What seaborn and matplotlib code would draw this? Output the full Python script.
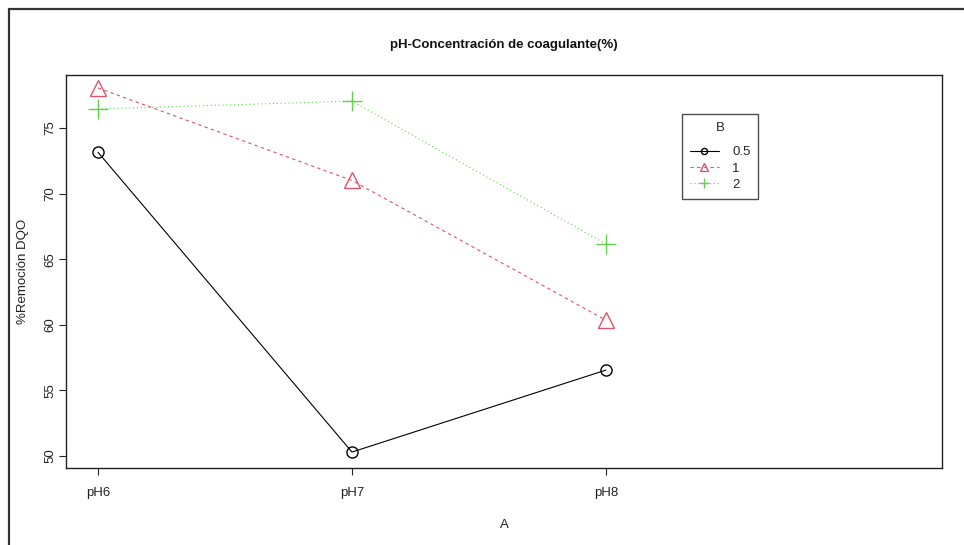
import matplotlib
matplotlib.use("Agg")
import matplotlib.pyplot as plt
from matplotlib.lines import Line2D
import seaborn as sns
import pandas as pd

categories = ["pH6", "pH7", "pH8"]
series_names = ["0.5", "1", "2"]
vals_05 = [73.15, 50.3, 56.55]
vals_1 = [78.05, 71.0, 60.35]
vals_2 = [76.45, 77.05, 66.15]
yticks = [50, 55, 60, 65, 70, 75]

sns.set_theme(style="white")
plt.rcParams["font.family"] = ["Liberation Sans", "DejaVu Sans"]

rows = []
for name, vals in zip(series_names, [vals_05, vals_1, vals_2]):
    for c, v in zip(categories, vals):
        rows.append({"A": c, "B": name, "y": v})
df = pd.DataFrame(rows)

W, H = 964, 545
fig = plt.figure(figsize=(W / 100, H / 100), dpi=100)
L, R, T, Bt = 66, 942, 75, 468
ax = fig.add_axes([L / W, 1 - Bt / H, (R - L) / W, (Bt - T) / H])

colors = {"0.5": "#000000", "1": "#DF536B", "2": "#61D04F"}
styles = {"0.5": "-", "1": (0, (3, 3)), "2": (0, (1, 2.5))}
markers = {"0.5": "o", "1": "^", "2": "+"}
msizes = {"0.5": 8, "1": 11, "2": 14}

for name in series_names:
    sub = df[df["B"] == name]
    sns.lineplot(data=sub, x="A", y="y", ax=ax, color=colors[name],
                 linestyle=styles[name], linewidth=0.8, marker=markers[name],
                 markersize=msizes[name], markerfacecolor="none",
                 markeredgecolor=colors[name], markeredgewidth=1.0,
                 legend=False, sort=False)

ax.set_xlim(-0.126, 3.323)
ax.set_ylim(49.085, 79.04)
ax.set_yticks(yticks)
ax.set_yticklabels([str(t) for t in yticks], rotation=90, va="center")
ax.set_xticks(range(len(categories)))
ax.set_xticklabels(categories)
ax.tick_params(axis="both", which="both", direction="out", length=5,
               width=0.8, color="#222222", labelsize=9.5, labelcolor="#222222",
               bottom=True, left=True)
ax.tick_params(axis="y", pad=2)
ax.tick_params(axis="x", pad=9)
for s in ax.spines.values():
    s.set_color("#222222")
    s.set_linewidth(1.0)
    s.set_visible(True)

ax.set_xlabel("A", fontsize=9.5, color="#222222", labelpad=14)
ax.set_ylabel("%Remoción DQO", fontsize=9.5, color="#222222", labelpad=11)
fig.text(504 / W, 1 - 45 / H, "pH-Concentración de coagulante(%)",
         ha="center", va="center", fontsize=9.5, fontweight="bold", color="#111111")

handles = [Line2D([0], [0], color=colors[n], linestyle=styles[n], linewidth=0.8,
                  marker=markers[n], markersize=msizes[n] * 0.55,
                  markerfacecolor="none", markeredgecolor=colors[n])
           for n in series_names]
leg = ax.legend(handles, series_names, title="B", loc="upper left",
                bbox_to_anchor=((682 - L) / (R - L), (Bt - 114) / (Bt - T)),
                borderaxespad=0, frameon=True, fancybox=False, fontsize=9.5,
                title_fontsize=9.5, handlelength=2.2, handletextpad=1.0,
                labelspacing=0.3, borderpad=0.6)
leg._legend_box.sep = 0.3 * 9.5 + 6
leg.get_frame().set_edgecolor("#222222")
leg.get_frame().set_linewidth(1.0)

# outer frame
fig.add_artist(Line2D([9 / W, 1.0], [1 - 9 / H, 1 - 9 / H], transform=fig.transFigure,
                      color="#333333", linewidth=1.6))
fig.add_artist(Line2D([9 / W, 9 / W], [0, 1 - 9 / H], transform=fig.transFigure,
                      color="#333333", linewidth=1.6))

fig.savefig("out.png", dpi=100)
